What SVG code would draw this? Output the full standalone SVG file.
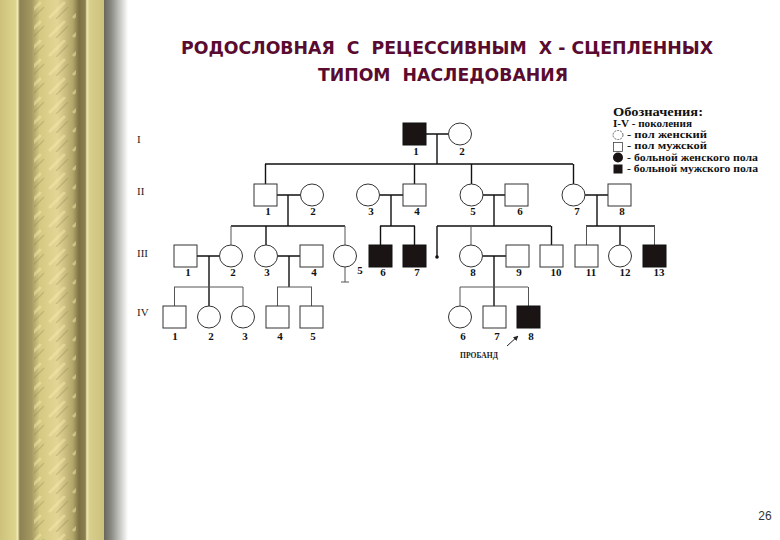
<svg xmlns="http://www.w3.org/2000/svg" width="780" height="540" viewBox="0 0 780 540">
<defs>
<linearGradient id="gold" x1="0" y1="0" x2="1" y2="0">
<stop offset="0" stop-color="#cdc27c"/>
<stop offset="0.15" stop-color="#ddd48e"/>
<stop offset="0.17" stop-color="#f2ebb8"/>
<stop offset="0.19" stop-color="#8c8250"/>
<stop offset="0.30" stop-color="#a39761"/>
<stop offset="0.38" stop-color="#d5c882"/>
<stop offset="0.55" stop-color="#e3d695"/>
<stop offset="0.70" stop-color="#b3a66a"/>
<stop offset="0.76" stop-color="#7c7144"/>
<stop offset="0.82" stop-color="#8a7f4f"/>
<stop offset="0.835" stop-color="#efe7b5"/>
<stop offset="0.86" stop-color="#d9cf8c"/>
<stop offset="1" stop-color="#cbc07c"/>
</linearGradient>
<linearGradient id="shadow" x1="0" y1="0" x2="1" y2="0">
<stop offset="0" stop-color="#66665c"/>
<stop offset="0.3" stop-color="#8a8a84"/>
<stop offset="1" stop-color="#ffffff"/>
</linearGradient>
<pattern id="stripes" width="24" height="19" patternUnits="userSpaceOnUse">
<path d="M2 17 L16 3" stroke="#f3e7aa" stroke-width="3" stroke-linecap="round" opacity="0.5"/>
<path d="M8 19 L20 7" stroke="#7d7246" stroke-width="1.5" opacity="0.25"/>
</pattern>
<marker id="arr" viewBox="0 0 10 10" refX="9" refY="5" markerWidth="5" markerHeight="5" orient="auto">
<path d="M0 0 L10 5 L0 10 z" fill="#222"/>
</marker>
<style>
.ln{stroke:#111;stroke-width:1.4;fill:none}
.thin{stroke:#555;stroke-width:1;fill:none}
.m{fill:#fff;stroke:#333;stroke-width:1}
.f{fill:#fff;stroke:#333;stroke-width:1}
.af{fill:#1a1414;stroke:#111;stroke-width:1}
.num{font-family:"Liberation Serif","DejaVu Serif",serif;font-weight:bold;font-size:11px;fill:#111;text-anchor:middle}
.gen{font-family:"Liberation Serif","DejaVu Serif",serif;font-size:11px;fill:#222}
.leg{font-family:"Liberation Serif","DejaVu Serif",serif;font-weight:bold;font-size:9.5px;fill:#111}
.title{font-family:"DejaVu Sans","Liberation Sans",sans-serif;font-weight:bold;font-size:17px;fill:#5a0c30;white-space:pre}
</style>
</defs>
<rect width="780" height="540" fill="#ffffff"/>
<!-- left decorative border -->
<rect x="0" y="0" width="104" height="540" fill="url(#gold)"/>
<rect x="34" y="0" width="42" height="540" fill="url(#stripes)"/>
<rect x="104" y="0" width="24" height="540" fill="url(#shadow)"/>

<!-- title -->
<text class="title" x="447" y="54" text-anchor="middle" textLength="532" lengthAdjust="spacingAndGlyphs">РОДОСЛОВНАЯ  С  РЕЦЕССИВНЫМ  Х - СЦЕПЛЕННЫХ</text>
<text class="title" x="443" y="81" text-anchor="middle" textLength="250" lengthAdjust="spacingAndGlyphs">ТИПОМ  НАСЛЕДОВАНИЯ</text>

<!-- generation labels -->
<g id="gen-labels">
<text class="gen" x="137" y="143">I</text>
<text class="gen" x="137" y="195">II</text>
<text class="gen" x="137" y="257">III</text>
<text class="gen" x="137" y="316">IV</text>
</g>

<!-- legend -->
<g id="legend">
<text x="613" y="116" style="font-family:'Liberation Serif','DejaVu Serif',serif;font-weight:bold;font-size:13px;fill:#111" textLength="90" lengthAdjust="spacingAndGlyphs">Обозначения:</text>
<text class="leg" x="613" y="127" textLength="79" lengthAdjust="spacingAndGlyphs">I-V - поколения</text>
<ellipse cx="618" cy="135" rx="5" ry="4.5" fill="#fff" stroke="#444" stroke-width="0.8" stroke-dasharray="2 1"/>
<text class="leg" x="627" y="138" textLength="80" lengthAdjust="spacingAndGlyphs">- пол женский</text>
<rect x="613.5" y="142.5" width="9" height="9" fill="#fff" stroke="#444" stroke-width="0.8"/>
<text class="leg" x="627" y="149" textLength="80" lengthAdjust="spacingAndGlyphs">- пол мужской</text>
<circle cx="618" cy="157.5" r="5" fill="#1a1414"/>
<text class="leg" x="627" y="161" textLength="131" lengthAdjust="spacingAndGlyphs">- больной женского пола</text>
<rect x="613.5" y="164.5" width="9" height="9" fill="#1a1414"/>
<text class="leg" x="627" y="172" textLength="131" lengthAdjust="spacingAndGlyphs">- больной мужского пола</text>
</g>

<!-- connectors -->
<g id="connectors">
<path class="ln" d="M426 134 H448.5 M437 134 V164 M265 164 H573 M265.5 164 V184 M414.5 164 V184 M471.5 164 V184 M573.5 164 V184"/>
<path class="ln" d="M277 195 H300.5 M288 195 V226 M379.5 195 H403 M391 195 V226 M483 195 H505 M494 195 V226 M585 195 H608 M597 195 V226"/>
<path class="ln" d="M231 226 H345 M266 226 V245 M380 226 H415 M380.5 226 V245 M414.5 226 V245 M437 226 H551 M437 226 V257 M551.5 226 V245 M586 226 H655 M620 226 V245"/>
<path class="thin" d="M231 226 V245 M345 226 V245 M471 226 V245 M586.5 226 V245 M654.5 226 V245"/>
<path class="thin" d="M345 267 V282 M341 282 H349"/>
<path class="ln" d="M197 256 H219.5 M209 256 V306 M277.5 256 H300 M289 256 V287 M482.5 256 H506 M494 256 V306"/>
<path class="thin" d="M174 287 H243 M174.5 287 V306 M243 287 V306 M277 287 H312 M277.5 287 V306 M311.5 287 V306 M460 287 H528 M460 287 V306 M528.5 287 V306"/>
<path d="M507 346 L518 336" stroke="#222" stroke-width="1" marker-end="url(#arr)"/>
</g>
<circle cx="437" cy="257" r="1.8" fill="#111"/>

<!-- generation I -->
<g id="I-1"><rect class="af" x="403" y="123" width="23" height="22"/><text class="num" x="416" y="155">1</text></g>
<g id="I-2"><ellipse class="f" cx="460" cy="134" rx="11.5" ry="11"/><text class="num" x="462" y="155">2</text></g>

<!-- generation II -->
<g id="II-1"><rect class="m" x="254" y="184" width="23" height="22"/><text class="num" x="268" y="215">1</text></g>
<g id="II-2"><ellipse class="f" cx="312" cy="195" rx="11.5" ry="11"/><text class="num" x="313" y="215">2</text></g>
<g id="II-3"><ellipse class="f" cx="368" cy="195" rx="11.5" ry="11"/><text class="num" x="371" y="215">3</text></g>
<g id="II-4"><rect class="m" x="403" y="184" width="23" height="22"/><text class="num" x="417" y="215">4</text></g>
<g id="II-5"><ellipse class="f" cx="471.5" cy="195" rx="11.5" ry="11"/><text class="num" x="473" y="215">5</text></g>
<g id="II-6"><rect class="m" x="505" y="184" width="23" height="22"/><text class="num" x="520" y="215">6</text></g>
<g id="II-7"><ellipse class="f" cx="573.5" cy="195" rx="11.5" ry="11"/><text class="num" x="577" y="215">7</text></g>
<g id="II-8"><rect class="m" x="608" y="184" width="23" height="22"/><text class="num" x="622" y="215">8</text></g>

<!-- generation III -->
<g id="III-1"><rect class="m" x="174" y="245" width="23" height="22"/><text class="num" x="188" y="276">1</text></g>
<g id="III-2"><ellipse class="f" cx="231" cy="256" rx="11.5" ry="11"/><text class="num" x="233" y="276">2</text></g>
<g id="III-3"><ellipse class="f" cx="266" cy="256" rx="11.5" ry="11"/><text class="num" x="267" y="276">3</text></g>
<g id="III-4"><rect class="m" x="300" y="245" width="23" height="22"/><text class="num" x="314" y="276">4</text></g>
<g id="III-5"><ellipse class="f" cx="345" cy="256" rx="11.5" ry="11"/><text class="num" x="360" y="274">5</text></g>
<g id="III-6"><rect class="af" x="369" y="245" width="23" height="22"/><text class="num" x="383" y="276">6</text></g>
<g id="III-7"><rect class="af" x="403" y="245" width="23" height="22"/><text class="num" x="417" y="276">7</text></g>
<g id="III-8"><ellipse class="f" cx="471" cy="256" rx="11.5" ry="11"/><text class="num" x="473" y="276">8</text></g>
<g id="III-9"><rect class="m" x="506" y="245" width="23" height="22"/><text class="num" x="519" y="276">9</text></g>
<g id="III-10"><rect class="m" x="540" y="245" width="23" height="22"/><text class="num" x="556" y="276">10</text></g>
<g id="III-11"><rect class="m" x="575" y="245" width="23" height="22"/><text class="num" x="591" y="276">11</text></g>
<g id="III-12"><ellipse class="f" cx="620" cy="256" rx="11.5" ry="11"/><text class="num" x="625" y="276">12</text></g>
<g id="III-13"><rect class="af" x="643" y="245" width="23" height="22"/><text class="num" x="659" y="276">13</text></g>

<!-- generation IV -->
<g id="IV-1"><rect class="m" x="163" y="306" width="23" height="22"/><text class="num" x="175" y="340">1</text></g>
<g id="IV-2"><ellipse class="f" cx="209" cy="317" rx="11.5" ry="11"/><text class="num" x="211" y="340">2</text></g>
<g id="IV-3"><ellipse class="f" cx="243" cy="317" rx="11.5" ry="11"/><text class="num" x="245" y="340">3</text></g>
<g id="IV-4"><rect class="m" x="266" y="306" width="23" height="22"/><text class="num" x="280" y="340">4</text></g>
<g id="IV-5"><rect class="m" x="300" y="306" width="23" height="22"/><text class="num" x="313" y="340">5</text></g>
<g id="IV-6"><ellipse class="f" cx="460" cy="317" rx="11.5" ry="11"/><text class="num" x="463" y="340">6</text></g>
<g id="IV-7"><rect class="m" x="483" y="306" width="23" height="22"/><text class="num" x="497" y="340">7</text></g>
<g id="IV-8"><rect class="af" x="517" y="306" width="23" height="22"/><text class="num" x="531" y="340">8</text></g>

<text x="460" y="358" style="font-family:'Liberation Serif','DejaVu Serif',serif;font-weight:bold;font-size:7.5px;fill:#222" textLength="38" lengthAdjust="spacingAndGlyphs">ПРОБАНД</text>

<text x="765" y="520" text-anchor="middle" style="font-family:'Liberation Sans',Arial,sans-serif;font-size:12px;fill:#333">26</text>
</svg>
